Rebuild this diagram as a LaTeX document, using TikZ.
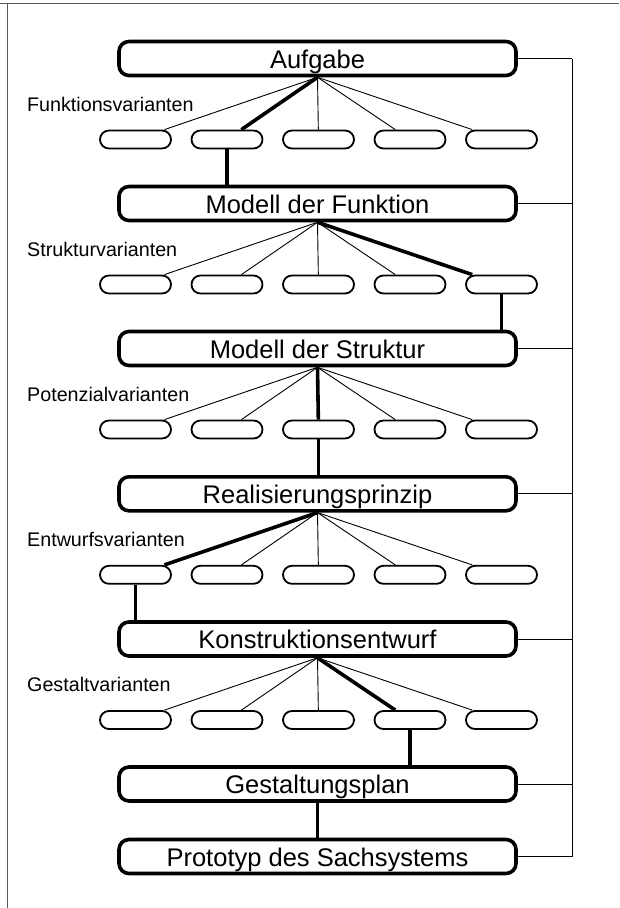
\documentclass[tikz,border=0pt]{standalone}
\usepackage{fontspec}
\setmainfont{Liberation Sans}
\begin{document}
\begin{tikzpicture}[x=1pt,y=-1pt,
  stage/.style={draw, line width=3.6pt, rounded corners=10pt,
    minimum width=397pt, minimum height=34pt, inner sep=0pt,
    font=\fontsize{25.5}{25.5}\selectfont, text height=19pt, text depth=0pt},
  variant/.style={draw, line width=1.8pt, rounded corners=9pt,
    minimum width=71pt, minimum height=18pt, inner sep=0pt},
  branch/.style={line width=0.9pt},
  chosen/.style={line width=3.6pt},
  tag/.style={anchor=base west, inner sep=0pt, font=\fontsize{19.7}{19.7}\selectfont},
  feedback/.style={line width=0.9pt},
  frame/.style={line width=0.9pt, black!65}]
\useasboundingbox (0,0) rectangle (619,908);

% outer frame (top and left edge)
\draw[frame] (0,3) -- (619,3);
\draw[frame] (7,3) -- (7,908);

% main stages
\node[stage] (s1) at (317.5,58.5)  {Aufgabe};
\node[stage] (s2) at (317.5,203.5) {Modell der Funktion};
\node[stage] (s3) at (317.5,348.5) {Modell der Struktur};
\node[stage] (s4) at (317.5,493.8) {Realisierungsprinzip};
\node[stage] (s5) at (317.5,639)   {Konstruktionsentwurf};
\node[stage] (s6) at (317.5,784)   {Gestaltungsplan};
\node[stage] (s7) at (317.5,856.5) {Prototyp des Sachsystems};

% variant rows: row / chosen variant / row label
\foreach \r/\c/\lab in {1/2/Funktionsvarianten,2/5/Strukturvarianten,
    3/3/Potenzialvarianten,4/1/Entwurfsvarianten,5/4/Gestaltvarianten}{
  \pgfmathtruncatemacro{\nx}{\r+1}
  \path (s\r.center) ++(0,81) coordinate (row\r);
  \node[tag] (lab\r) at (27,0 |- row\r) [yshift=28.5pt] {\lab};
  \foreach \k in {1,...,5}{
    \node[variant] (v\r-\k) at (135.5+91.5*\k-91.5,0 |- row\r) {};
    \ifnum\k=\c
      \draw[chosen] (s\r.south) -- (v\r-\k);
      \draw[chosen] (v\r-\k.south) -- (v\r-\k.south |- s\nx.north);
    \else
      \draw[branch] (s\r.south) -- (v\r-\k);
    \fi
  }
}
\draw[chosen] (s6.south) -- (s7.north);

% feedback rail on the right
\coordinate (rail) at (572,0);
\foreach \i in {1,...,7}{
  \draw[feedback] (s\i.east) -- (s\i.east -| rail);
}
\draw[feedback] (s1.east -| rail) -- (s7.east -| rail);
\end{tikzpicture}
\end{document}
